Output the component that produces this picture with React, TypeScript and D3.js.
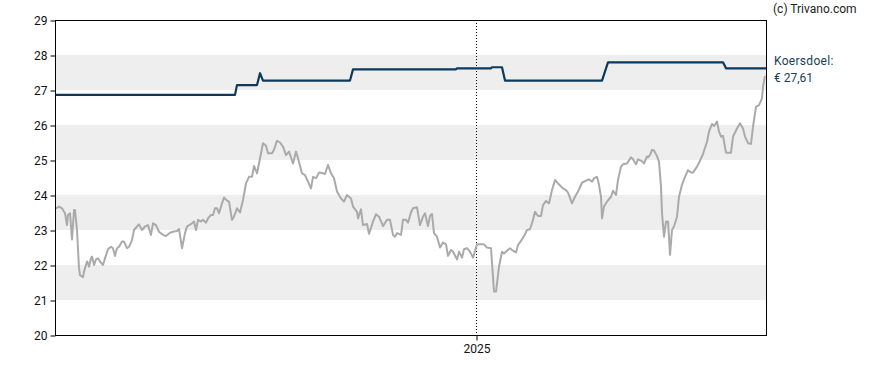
import * as d3 from "d3";
import React, { useRef, useEffect } from "react";

// koers (slotkoers) per datum
const price: [string, number][] = [
  ["2023-11-07", 23.63], ["2023-11-08", 23.62], ["2023-11-11", 23.67], ["2023-11-14", 23.62],
  ["2023-11-17", 23.48], ["2023-11-19", 23.14], ["2023-11-20", 23.43], ["2023-11-22", 23.48],
  ["2023-11-24", 22.73], ["2023-11-26", 23.57], ["2023-11-27", 23.57], ["2023-11-29", 23.0],
  ["2023-12-01", 21.91], ["2023-12-02", 21.71], ["2023-12-05", 21.65], ["2023-12-06", 21.81],
  ["2023-12-09", 22.1], ["2023-12-10", 22.05], ["2023-12-11", 21.95], ["2023-12-13", 22.19],
  ["2023-12-14", 22.24], ["2023-12-16", 22.0], ["2023-12-18", 22.16], ["2023-12-20", 22.19],
  ["2023-12-22", 22.1], ["2023-12-25", 22.0], ["2023-12-27", 22.19], ["2023-12-30", 22.45],
  ["2024-01-02", 22.52], ["2024-01-04", 22.48], ["2024-01-06", 22.26], ["2024-01-08", 22.48],
  ["2024-01-10", 22.52], ["2024-01-13", 22.67], ["2024-01-15", 22.67], ["2024-01-18", 22.48],
  ["2024-01-20", 22.52], ["2024-01-23", 22.71], ["2024-01-25", 23.0], ["2024-01-28", 23.1],
  ["2024-01-30", 23.16], ["2024-02-02", 23.0], ["2024-02-05", 23.1], ["2024-02-08", 23.14],
  ["2024-02-11", 22.86], ["2024-02-13", 23.19], ["2024-02-16", 23.14], ["2024-02-19", 22.95],
  ["2024-02-23", 22.86], ["2024-02-26", 22.83], ["2024-03-01", 22.92], ["2024-03-04", 22.95],
  ["2024-03-08", 22.97], ["2024-03-10", 23.03], ["2024-03-13", 22.48], ["2024-03-16", 22.91],
  ["2024-03-18", 23.1], ["2024-03-23", 23.19], ["2024-03-25", 23.24], ["2024-03-27", 23.0],
  ["2024-03-29", 23.29], ["2024-04-01", 23.24], ["2024-04-03", 23.29], ["2024-04-06", 23.21],
  ["2024-04-08", 23.33], ["2024-04-11", 23.43], ["2024-04-13", 23.43], ["2024-04-15", 23.62],
  ["2024-04-17", 23.62], ["2024-04-19", 23.48], ["2024-04-22", 23.76], ["2024-04-24", 23.93],
  ["2024-04-27", 23.84], ["2024-04-29", 23.81], ["2024-05-02", 23.29], ["2024-05-04", 23.38],
  ["2024-05-07", 23.62], ["2024-05-10", 23.5], ["2024-05-13", 23.86], ["2024-05-16", 24.33],
  ["2024-05-19", 24.52], ["2024-05-22", 24.52], ["2024-05-24", 24.83], ["2024-05-27", 24.62],
  ["2024-05-29", 24.9], ["2024-06-02", 25.48], ["2024-06-05", 25.41], ["2024-06-07", 25.19],
  ["2024-06-11", 25.19], ["2024-06-13", 25.29], ["2024-06-16", 25.55], ["2024-06-19", 25.5],
  ["2024-06-22", 25.38], ["2024-06-25", 25.14], ["2024-06-28", 25.24], ["2024-07-02", 24.9],
  ["2024-07-05", 25.24], ["2024-07-07", 25.05], ["2024-07-11", 24.62], ["2024-07-14", 24.57],
  ["2024-07-17", 24.38], ["2024-07-20", 24.19], ["2024-07-22", 24.52], ["2024-07-25", 24.48],
  ["2024-07-28", 24.64], ["2024-08-01", 24.62], ["2024-08-03", 24.6], ["2024-08-06", 24.86],
  ["2024-08-09", 24.62], ["2024-08-12", 24.48], ["2024-08-15", 24.1], ["2024-08-19", 23.9],
  ["2024-08-22", 23.81], ["2024-08-25", 24.0], ["2024-08-29", 23.9], ["2024-08-31", 23.67],
  ["2024-09-04", 23.52], ["2024-09-05", 23.33], ["2024-09-08", 23.59], ["2024-09-10", 23.14],
  ["2024-09-14", 23.17], ["2024-09-16", 22.89], ["2024-09-20", 23.24], ["2024-09-23", 23.45],
  ["2024-09-26", 23.38], ["2024-09-30", 23.11], ["2024-10-04", 23.29], ["2024-10-07", 23.29],
  ["2024-10-10", 22.86], ["2024-10-12", 22.81], ["2024-10-14", 22.91], ["2024-10-18", 22.86],
  ["2024-10-20", 23.29], ["2024-10-23", 23.29], ["2024-10-25", 23.21], ["2024-10-28", 23.5],
  ["2024-10-30", 23.62], ["2024-11-03", 23.65], ["2024-11-06", 23.14], ["2024-11-09", 23.38],
  ["2024-11-11", 23.48], ["2024-11-14", 23.11], ["2024-11-16", 23.4], ["2024-11-18", 23.46],
  ["2024-11-20", 22.91], ["2024-11-23", 22.81], ["2024-11-26", 22.5], ["2024-11-29", 22.64],
  ["2024-12-02", 22.59], ["2024-12-04", 22.26], ["2024-12-07", 22.43], ["2024-12-09", 22.38],
  ["2024-12-13", 22.16], ["2024-12-15", 22.38], ["2024-12-18", 22.21], ["2024-12-20", 22.45],
  ["2024-12-23", 22.48], ["2024-12-26", 22.38], ["2024-12-29", 22.21], ["2025-01-02", 22.59],
  ["2025-01-05", 22.59], ["2025-01-09", 22.59], ["2025-01-12", 22.5], ["2025-01-16", 22.48],
  ["2025-01-19", 21.24], ["2025-01-21", 21.24], ["2025-01-24", 21.95], ["2025-01-27", 22.38],
  ["2025-01-29", 22.33], ["2025-02-01", 22.41], ["2025-02-04", 22.48], ["2025-02-07", 22.41],
  ["2025-02-10", 22.36], ["2025-02-12", 22.57], ["2025-02-16", 22.73], ["2025-02-19", 22.88],
  ["2025-02-21", 23.0], ["2025-02-24", 23.02], ["2025-02-27", 23.29], ["2025-03-01", 23.52],
  ["2025-03-04", 23.4], ["2025-03-07", 23.4], ["2025-03-09", 23.71], ["2025-03-12", 23.83],
  ["2025-03-15", 23.76], ["2025-03-18", 24.14], ["2025-03-21", 24.43], ["2025-03-24", 24.33],
  ["2025-03-29", 24.19], ["2025-04-01", 24.14], ["2025-04-03", 24.07], ["2025-04-07", 23.76],
  ["2025-04-10", 23.95], ["2025-04-13", 24.1], ["2025-04-17", 24.35], ["2025-04-21", 24.41],
  ["2025-04-24", 24.45], ["2025-04-27", 24.38], ["2025-04-29", 24.48], ["2025-05-02", 24.52],
  ["2025-05-04", 24.29], ["2025-05-06", 23.95], ["2025-05-07", 23.33], ["2025-05-09", 23.67],
  ["2025-05-12", 23.81], ["2025-05-16", 23.95], ["2025-05-18", 24.12], ["2025-05-21", 24.0],
  ["2025-05-23", 24.43], ["2025-05-26", 24.81], ["2025-05-28", 24.88], ["2025-06-01", 24.9],
  ["2025-06-05", 25.08], ["2025-06-07", 25.02], ["2025-06-10", 24.88], ["2025-06-12", 25.02],
  ["2025-06-16", 24.97], ["2025-06-18", 24.9], ["2025-06-21", 25.1], ["2025-06-22", 25.08],
  ["2025-06-24", 25.14], ["2025-06-26", 25.29], ["2025-06-28", 25.27], ["2025-07-01", 25.11],
  ["2025-07-03", 24.95], ["2025-07-05", 24.24], ["2025-07-06", 23.48], ["2025-07-08", 22.81],
  ["2025-07-10", 23.24], ["2025-07-12", 23.24], ["2025-07-13", 22.81], ["2025-07-14", 22.29],
  ["2025-07-16", 23.0], ["2025-07-18", 23.1], ["2025-07-21", 23.38], ["2025-07-23", 23.95],
  ["2025-07-26", 24.29], ["2025-07-29", 24.52], ["2025-08-01", 24.71], ["2025-08-04", 24.64],
  ["2025-08-06", 24.64], ["2025-08-10", 24.81], ["2025-08-13", 24.98], ["2025-08-16", 25.17],
  ["2025-08-20", 25.52], ["2025-08-22", 25.81], ["2025-08-25", 26.03], ["2025-08-27", 25.97],
  ["2025-08-30", 26.1], ["2025-09-01", 25.81], ["2025-09-03", 25.67], ["2025-09-05", 25.69],
  ["2025-09-08", 25.21], ["2025-09-10", 25.21], ["2025-09-13", 25.21], ["2025-09-15", 25.67],
  ["2025-09-19", 25.9], ["2025-09-22", 26.05], ["2025-09-25", 25.9], ["2025-09-27", 25.67],
  ["2025-09-30", 25.48], ["2025-10-03", 25.46], ["2025-10-05", 25.95], ["2025-10-08", 26.52],
  ["2025-10-11", 26.57], ["2025-10-14", 26.76], ["2025-10-15", 27.1], ["2025-10-17", 27.4],
];

// koersdoel (gemiddeld koersdoel analisten)
const target: [string, number][] = [
  ["2023-11-07", 26.86], ["2024-05-05", 26.86], ["2024-05-07", 27.14], ["2024-05-27", 27.14],
  ["2024-05-30", 27.48], ["2024-06-02", 27.27], ["2024-08-28", 27.27], ["2024-08-31", 27.59],
  ["2024-12-12", 27.59], ["2024-12-13", 27.62], ["2025-01-16", 27.62], ["2025-01-17", 27.65],
  ["2025-01-27", 27.65], ["2025-01-30", 27.27], ["2025-05-07", 27.27], ["2025-05-13", 27.79],
  ["2025-09-05", 27.79], ["2025-09-08", 27.62], ["2025-10-18", 27.62],
];

const yTicks = [20, 21, 22, 23, 24, 25, 26, 27, 28, 29];
const bands = [[21, 22], [23, 24], [25, 26], [27, 28]];
const xTickDates = ["2025-01-01"];
const xTickLabels = ["2025"];
const startDate = "2023-11-07";
const endDate = "2025-10-18";
const targetLabel = ["Koersdoel:", "€ 27,61"];
const credit = "(c) Trivano.com";

const W = 888;
const H = 370;
const m = { left: 55, right: 766, top: 20, bottom: 335 };
const font = "Roboto, 'Open Sans', Arial, sans-serif";

const parse = d3.utcParse("%Y-%m-%d");

const App = () => {
  const gy = useRef<SVGGElement>(null);
  const gx = useRef<SVGGElement>(null);

  const x = d3.scaleUtc([parse(startDate)!, parse(endDate)!], [m.left, m.right]);
  const y = d3.scaleLinear([20, 29], [m.bottom, m.top]);

  const line = d3
    .line<[string, number]>()
    .x((d) => x(parse(d[0])!))
    .y((d) => y(d[1]));

  useEffect(() => {
    const ax = d3.select(gy.current!);
    ax.call(d3.axisLeft(y).tickValues(yTicks).tickSize(5).tickPadding(3).tickFormat(d3.format("d")) as any);
    ax.select(".domain").remove();
    ax.selectAll("text").attr("font-family", font).attr("font-size", 12).attr("fill", "#111");
    ax.selectAll("line").attr("stroke", "#000");
  }, []);

  useEffect(() => {
    const ax = d3.select(gx.current!);
    ax.call(
      d3.axisBottom(x)
        .tickValues(xTickDates.map((s) => parse(s)!))
        .tickSize(5)
        .tickPadding(4)
        .tickFormat((_, i) => xTickLabels[i]) as any
    );
    ax.select(".domain").remove();
    ax.selectAll("text").attr("font-family", font).attr("font-size", 12).attr("fill", "#111");
    ax.selectAll("line").attr("stroke", "#000");
  }, []);

  return (
    <svg width={W} height={H} style={{ position: "absolute", left: 0, top: 0, background: "#fff" }}>
      {bands.map((b, i) => (
        <rect key={i} x={m.left} y={y(b[1])} width={m.right - m.left} height={y(b[0]) - y(b[1])} fill="#eeeeee" />
      ))}
      {xTickDates.map((s, i) => (
        <line key={i} x1={Math.round(x(parse(s)!)) + 0.5} x2={Math.round(x(parse(s)!)) + 0.5}
          y1={m.top} y2={m.bottom} stroke="#000" strokeDasharray="1,2" />
      ))}
      <path d={line(price)!} fill="none" stroke="#aaaaaa" strokeWidth={2} strokeLinejoin="round" />
      <path d={line(target)!} fill="none" stroke="#0d3a5c" strokeWidth={2.2} strokeLinejoin="round" />
      <rect x={m.left + 0.5} y={m.top + 0.5} width={m.right - m.left} height={m.bottom - m.top}
        fill="none" stroke="#000" strokeWidth={1} />
      <g ref={gy} transform={`translate(${m.left + 0.5},0.5)`} />
      <g ref={gx} transform={`translate(0.5,${m.bottom + 0.5})`} />
      <text x={773} y={13} fontFamily={font} fontSize={12} fill="#222">{credit}</text>
      <text x={774} y={65} fontFamily={font} fontSize={12} fill="#1a3d5c" letterSpacing={0.3}>{targetLabel[0]}</text>
      <text x={774} y={82} fontFamily={font} fontSize={12} fill="#1a3d5c">{targetLabel[1]}</text>
    </svg>
  );
};

export default App;
